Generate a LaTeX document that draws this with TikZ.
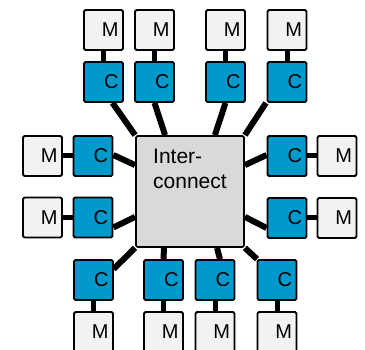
\documentclass[tikz,border=0pt]{standalone}
\usepackage{fontspec}
\setmainfont{Liberation Sans}
\usetikzlibrary{positioning,backgrounds}
\definecolor{cacheblue}{RGB}{0,153,204}
\definecolor{memgray}{RGB}{242,242,242}
\definecolor{icgray}{RGB}{217,217,217}
\tikzset{
  box/.style = {rectangle, draw=black, line width=1.8pt, rounded corners=1.5pt,
    minimum width=39pt, minimum height=40pt, inner sep=0pt,
    text width=30pt, align=right, font=\fontsize{20}{24}\selectfont},
  cache/.style = {box, fill=cacheblue},% cache
  mem/.style = {box, fill=memgray},% memory
  xbar/.style = {rectangle, draw=black, line width=1.8pt, rounded corners=2pt,
    fill=icgray, minimum width=108pt, minimum height=111pt},% interconnect
  bus/.style = {line width=6pt},% cache to interconnect
  link/.style = {line width=5pt}% cache to memory
}
\begin{document}
\begin{tikzpicture}[x=1pt,y=-1pt]
\useasboundingbox (0,0) rectangle (365,350);
\clip (0,0) rectangle (365,350);
\node [xbar] (ic) at (190,191.5) {};
\node [align=left, anchor=north west, inner sep=0pt,
  font=\fontsize{21}{25}\selectfont] (ictext) at (153,149) {Inter-\\connect};
% top row
\node [cache] (ct1) at (103.5,82) {C};
\node [cache] (ct2) at (154.5,82) {C};
\node [cache] (ct3) at (225.5,82) {C};
\node [cache] (ct4) at (287,82) {C};
\node [mem] (mt1) at (103.5,30) {M};
\node [mem] (mt2) at (154.5,30) {M};
\node [mem] (mt3) at (225.5,30) {M};
\node [mem] (mt4) at (287,30) {M};
% left side
\node [cache] (cl1) at (93,156) {C};
\node [cache] (cl2) at (93,217.5) {C};
\node [mem] (ml1) at (42.5,156) {M};
\node [mem] (ml2) at (42.5,217.5) {M};
% right side
\node [cache] (cr1) at (287,156) {C};
\node [cache] (cr2) at (287,218) {C};
\node [mem] (mr1) at (337,156) {M};
\node [mem] (mr2) at (337,218) {M};
% bottom row
\node [cache] (cb1) at (93.5,280) {C};
\node [cache] (cb2) at (163.5,280) {C};
\node [cache] (cb3) at (215,280) {C};
\node [cache] (cb4) at (277,280) {C};
\node [mem] (mb1) at (93.5,332) {M};
\node [mem] (mb2) at (163.5,332) {M};
\node [mem] (mb3) at (215,332) {M};
\node [mem] (mb4) at (277,332) {M};

\begin{scope}[on background layer]
% cache -- memory
\foreach \c/\m in {ct1/mt1,ct2/mt2,ct3/mt3,ct4/mt4,cb1/mb1,cb2/mb2,cb3/mb3,cb4/mb4}
  \draw [link] (\c) -- (\m);
\foreach \c/\m in {cl1/ml1,cl2/ml2,cr1/mr1,cr2/mr2}
  \draw [link] (\c) -- (\m);

% cache -- interconnect
\draw [bus] ([xshift=9pt]ct1.south) -- (ic.north west);
\draw [bus] (ct2.south) -- ([xshift=30pt]ic.north west);
\draw [bus] (ct3.south) -- ([xshift=-30pt]ic.north east);
\draw [bus] ([xshift=-21pt]ct4.south) -- (ic.north east);
\draw [bus] ([yshift=1pt]cl1.east) -- ([yshift=-30pt]ic.north west);
\draw [bus] ([yshift=-10pt]cl2.east) -- ([yshift=31pt]ic.south west);
\draw [bus] ([yshift=1pt]cr1.west) -- ([yshift=-30pt]ic.north east);
\draw [bus] ([yshift=-10pt]cr2.west) -- ([yshift=31pt]ic.south east);
\draw [bus] ([xshift=20pt,yshift=-10pt]cb1.north) -- (ic.south west);
\draw [bus] (cb2.north) -- ([xshift=-26pt]ic.south);
\draw [bus] ([xshift=5pt]cb3.north) -- ([xshift=27pt]ic.south);
\draw [bus] ([xshift=-20pt]cb4.north) -- (ic.south east);
\end{scope}
\end{tikzpicture}
\end{document}
